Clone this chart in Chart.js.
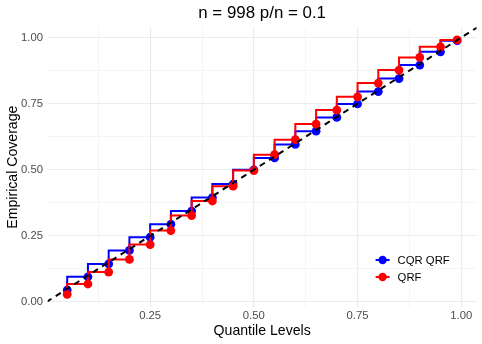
<!DOCTYPE html>
<html>
<head>
<meta charset="utf-8">
<script src="https://cdn.jsdelivr.net/npm/chart.js@4"></script>
<style>
  html, body { margin: 0; padding: 0; background: #fff; }
</style>
</head>
<body>
<canvas id="myChart" width="482" height="344"></canvas>
<script>
const quantileLevels = [0.05, 0.10, 0.15, 0.20, 0.25, 0.30, 0.35, 0.40, 0.45, 0.50,
                        0.55, 0.60, 0.65, 0.70, 0.75, 0.80, 0.85, 0.90, 0.95, 0.99];
const cqrQrfCoverage = [0.045, 0.095, 0.144, 0.195, 0.245, 0.294, 0.344, 0.395, 0.446, 0.500,
                        0.545, 0.596, 0.646, 0.698, 0.749, 0.796, 0.845, 0.896, 0.946, 0.988];
const qrfCoverage = [0.029, 0.068, 0.113, 0.161, 0.217, 0.270, 0.327, 0.382, 0.438, 0.497,
                     0.557, 0.614, 0.673, 0.726, 0.776, 0.828, 0.877, 0.925, 0.965, 0.991];
const idealLine = [0, 1.04];
const xTicks = [0.25, 0.50, 0.75, 1.00];
const yTicks = [0.00, 0.25, 0.50, 0.75, 1.00];
const minorTicks = [0.125, 0.375, 0.625, 0.875];

const blue = '#0000FF';
const red = '#FF0000';
const font = '"Liberation Sans", Arial, Helvetica, sans-serif';

const isMajor = (v, list) => list.some(t => Math.abs(t - v) < 1e-6);

function gridScale(min, max, majors, title) {
  const all = majors.concat(minorTicks).filter(v => v >= min && v <= max).sort((a, b) => a - b);
  return {
    type: 'linear',
    min: min,
    max: max,
    afterBuildTicks: s => { s.ticks = all.map(v => ({ value: v })); },
    border: { display: false },
    grid: {
      drawTicks: false,
      color: c => isMajor(c.tick.value, majors) ? '#ebebeb' : '#f4f4f4',
      lineWidth: c => isMajor(c.tick.value, majors) ? 1.1 : 1
    },
    ticks: {
      autoSkip: false,
      maxRotation: 0,
      color: '#4d4d4d',
      font: { family: font, size: 11.3 },
      callback: v => isMajor(v, majors) ? v.toFixed(2) : ''
    },
    title: {
      display: true,
      text: title,
      color: '#000',
      font: { family: font, size: 14.1 }
    }
  };
}

const insideLegend = {
  id: 'insideLegend',
  afterDraw(chart) {
    const ctx = chart.ctx;
    const area = chart.chartArea;
    const items = [['CQR QRF', blue], ['QRF', red]];
    ctx.save();
    items.forEach(([label, color], i) => {
      const cx = area.right - 94;
      const cy = area.bottom - 47 + i * 17;
      ctx.strokeStyle = color;
      ctx.lineWidth = 2;
      ctx.beginPath();
      ctx.moveTo(cx - 7, cy);
      ctx.lineTo(cx + 7, cy);
      ctx.stroke();
      ctx.fillStyle = color;
      ctx.beginPath();
      ctx.arc(cx, cy, 4.2, 0, Math.PI * 2);
      ctx.fill();
      ctx.fillStyle = '#000';
      ctx.font = '11.3px ' + font;
      ctx.textBaseline = 'middle';
      ctx.textAlign = 'left';
      ctx.fillText(label, cx + 15, cy + 0.5);
    });
    ctx.restore();
  }
};

const ctx = document.getElementById('myChart').getContext('2d');
const xScale = gridScale(0.003, 1.037, xTicks, 'Quantile Levels');
xScale.ticks.padding = 2.4;
xScale.title.padding = { top: 0, bottom: 4 };
xScale.afterFit = s => { s.height = 37; };
const yScale = gridScale(-0.019, 1.039, yTicks, 'Empirical Coverage');
yScale.ticks.padding = 4.7;
yScale.title.padding = { top: 1, bottom: 0 };
yScale.afterFit = s => { s.width = 44.1; };

let chart = new Chart(ctx, {
  type: 'line',
  data: {
    datasets: [{
      label: 'ideal',
      data: idealLine.map(v => ({ x: v, y: v })),
      borderColor: '#000',
      borderWidth: 2,
      borderDash: [6, 5],
      pointRadius: 0,
      fill: false
    }, {
      label: 'QRF',
      data: quantileLevels.map((q, i) => ({ x: q, y: qrfCoverage[i] })),
      borderColor: red,
      backgroundColor: red,
      borderWidth: 2,
      pointRadius: 4.4,
      pointBorderWidth: 0,
      stepped: 'after',
      fill: false
    }, {
      label: 'CQR QRF',
      data: quantileLevels.map((q, i) => ({ x: q, y: cqrQrfCoverage[i] })),
      borderColor: blue,
      backgroundColor: blue,
      borderWidth: 2,
      pointRadius: 4.4,
      pointBorderWidth: 0,
      stepped: 'after',
      fill: false
    }]
  },
  options: {
    responsive: false,
    animation: false,
    layout: { padding: { left: 3.6, right: 5.4, top: 0, bottom: 0 } },
    scales: { x: xScale, y: yScale },
    plugins: {
      legend: { display: false },
      tooltip: { enabled: false },
      title: {
        display: true,
        text: 'n = 998 p/n = 0.1',
        color: '#000',
        fullSize: false,
        font: { family: font, size: 16.9, weight: 'normal' },
        padding: { top: 3, bottom: 4 }
      }
    }
  },
  plugins: [insideLegend]
});
</script>
</body>
</html>
